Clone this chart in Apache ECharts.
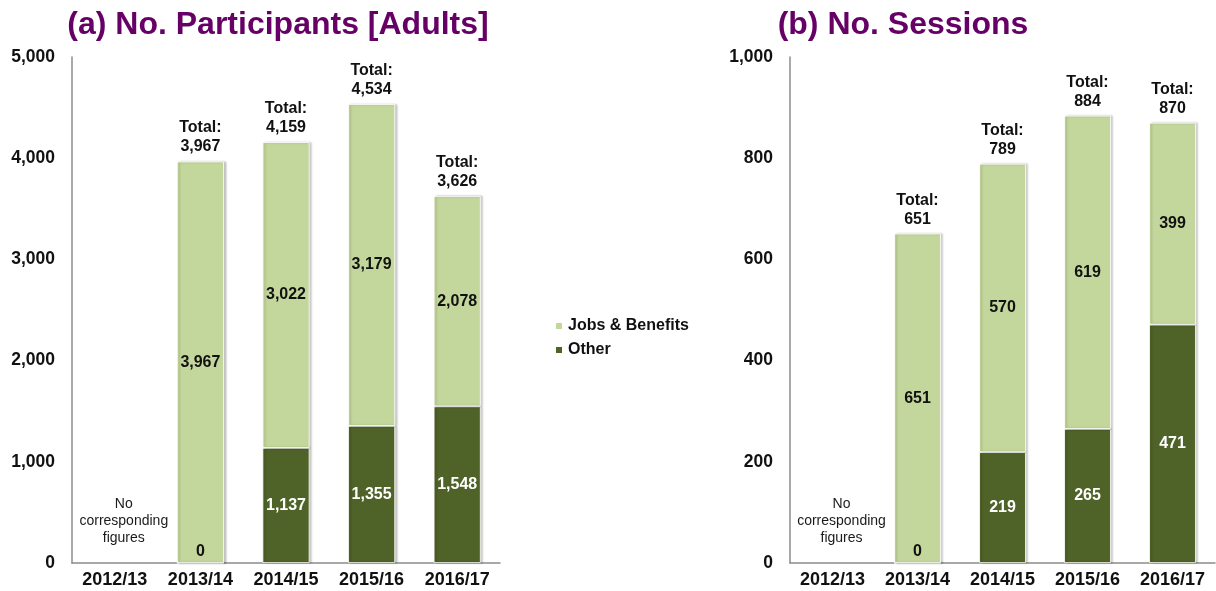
<!DOCTYPE html>
<html><head><meta charset="utf-8">
<script src="https://cdn.jsdelivr.net/npm/echarts@6/dist/echarts.min.js"></script>
<style>html,body{margin:0;padding:0;background:#fff}#c{width:1216px;height:591px}</style>
</head><body><div id="c"></div>
<script>
var categories = ['2012/13','2013/14','2014/15','2015/16','2016/17'];
var partJobs   = [null, 3967, 3022, 3179, 2078];
var partOther  = [null, 0, 1137, 1355, 1548];
var partTotal  = [null, 3967, 4159, 4534, 3626];
var sessJobs   = [null, 651, 570, 619, 399];
var sessOther  = [null, 0, 219, 265, 471];
var sessTotal  = [null, 651, 789, 884, 870];
var noteText   = 'No\ncorresponding\nfigures';
var titles = ['(a) No. Participants [Adults]', '(b) No. Sessions'];

var FONT = "'Liberation Sans', Arial, sans-serif";
var LIGHT = '#C3D69B', DARK = '#4F6228', TXT = '#111';
function fmt(v){ return Number(v).toLocaleString('en-US'); }

function seriesFor(idx, jobs, other, total){
  var otherData = other.map(function(v){
    if (v === 0) return {value:0, label:{position:'top', distance:3, color:TXT}};
    return v;
  });
  var noteData = categories.map(function(c,i){ return (jobs[i]===null && other[i]===null) ? 0 : null; });
  var barStyle = {shadowColor:'rgba(0,0,0,0.22)', shadowBlur:2, shadowOffsetX:2, borderColor:'#fff', borderWidth:0.8};
  return [
    {name:'Other', type:'bar', stack:'s'+idx, xAxisIndex:idx, yAxisIndex:idx, barWidth:'55%',
     data: otherData, itemStyle: Object.assign({color:DARK}, barStyle),
     label:{show:true, position:'inside', color:'#fff', fontWeight:'bold', fontSize:16, fontFamily:FONT,
            formatter:function(p){ return fmt(p.value); }}},
    {name:'Jobs & Benefits', type:'bar', stack:'s'+idx, xAxisIndex:idx, yAxisIndex:idx, barWidth:'55%',
     data: jobs, itemStyle: Object.assign({color:LIGHT}, barStyle),
     label:{show:true, position:'inside', color:TXT, fontWeight:'bold', fontSize:16, fontFamily:FONT,
            formatter:function(p){ return fmt(p.value); }}},
    {name:'Total', type:'scatter', xAxisIndex:idx, yAxisIndex:idx, symbolSize:0, silent:true,
     data: total, itemStyle:{color:'rgba(0,0,0,0)', opacity:1},
     label:{show:true, position:'top', distance:5, color:TXT, fontWeight:'bold', fontSize:16, lineHeight:19,
            fontFamily:FONT, formatter:function(p){ return 'Total:\n' + fmt(p.value); }}},
    {name:'Note', type:'scatter', xAxisIndex:idx, yAxisIndex:idx, symbolSize:0, silent:true,
     data: noteData, itemStyle:{color:'rgba(0,0,0,0)', opacity:1},
     label:{show:true, position:'top', distance:16, offset:[9,0], color:'#1a1a1a', fontSize:14, lineHeight:17,
            fontFamily:FONT, formatter:function(){ return noteText; }}}
  ];
}

function xAxis(idx){
  return {type:'category', gridIndex:idx, data:categories,
    axisLine:{lineStyle:{color:'#8c8c8c', width:1.5}}, axisTick:{show:false},
    axisLabel:{color:TXT, fontWeight:'bold', fontSize:18, fontFamily:FONT, margin:8}};
}
function yAxis(idx, max, interval){
  return {type:'value', gridIndex:idx, min:0, max:max, interval:interval,
    axisLine:{show:true, lineStyle:{color:'#8c8c8c', width:1.5}}, axisTick:{show:false},
    splitLine:{show:false},
    axisLabel:{color:TXT, fontWeight:'bold', fontSize:17.5, fontFamily:FONT, margin:17,
               formatter:function(v){ return fmt(v); }}};
}

var chart = echarts.init(document.getElementById('c'), null, {renderer:'canvas'});
chart.setOption({
  animation:false,
  backgroundColor:'#fff',
  title:[
    {text:titles[0], left:273, top:4, textAlign:'center',
     textStyle:{color:'#660066', fontWeight:'bold', fontSize:32, fontFamily:FONT}},
    {text:titles[1], left:898, top:4, textAlign:'center',
     textStyle:{color:'#660066', fontWeight:'bold', fontSize:32, fontFamily:FONT}}
  ],
  legend:{data:['Jobs & Benefits','Other'], orient:'vertical', left:549, top:313,
    icon:'rect', itemWidth:8, itemHeight:8, itemGap:8,
    textStyle:{color:TXT, fontSize:16, fontWeight:'bold', fontFamily:FONT}},
  grid:[
    {left:72, top:57, width:428, height:506},
    {left:790, top:57, width:425, height:506}
  ],
  xAxis:[xAxis(0), xAxis(1)],
  yAxis:[yAxis(0,5000,1000), yAxis(1,1000,200)],
  series: seriesFor(0, partJobs, partOther, partTotal).concat(seriesFor(1, sessJobs, sessOther, sessTotal))
});
</script></body></html>
